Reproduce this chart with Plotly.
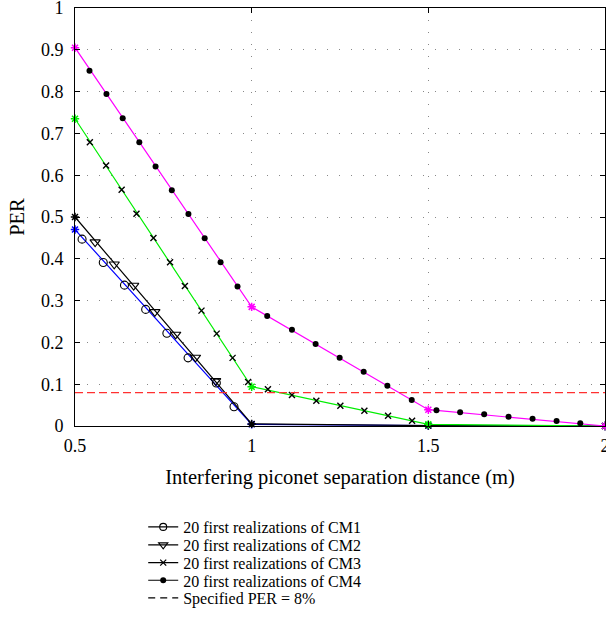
import plotly.graph_objects as go

# ---------------- data ----------------
anchor_x = [0.5, 1.0, 1.5, 2.0]
cm1_y = [0.47, 0.004, 0.001, 0.0]
cm2_y = [0.50, 0.005, 0.001, 0.0]
cm3_y = [0.735, 0.094, 0.004, 0.0]
cm4_y = [0.905, 0.285, 0.039, 0.0]

cm1_mk_x = [0.52, 0.58, 0.64, 0.70, 0.76, 0.82, 0.90, 0.95]
cm1_mk_y = [0.447, 0.391, 0.337, 0.279, 0.222, 0.163, 0.103, 0.046]
cm2_mk_x = [0.557, 0.611, 0.666, 0.726, 0.785, 0.841, 0.898]
cm2_mk_y = [0.44, 0.387, 0.336, 0.273, 0.219, 0.164, 0.108]
cm3_mk_x = [0.542, 0.588, 0.632, 0.674, 0.722, 0.769, 0.811, 0.858, 0.901, 0.946, 0.990,
            1.046, 1.114, 1.183, 1.251, 1.319, 1.386, 1.454]
cm3_mk_y = [0.679, 0.623, 0.565, 0.508, 0.450, 0.392, 0.335, 0.276, 0.221, 0.163, 0.105,
            0.088, 0.074, 0.0605, 0.0486, 0.0367, 0.0247, 0.0127]
cm4_mk_x = [0.541, 0.589, 0.635, 0.682, 0.728, 0.774, 0.821, 0.867, 0.912, 0.960,
            1.044, 1.114, 1.181, 1.249, 1.317, 1.384, 1.453,
            1.523, 1.590, 1.658, 1.727, 1.795, 1.863, 1.930]
cm4_mk_y = [0.850, 0.794, 0.736, 0.679, 0.621, 0.564, 0.507, 0.449, 0.392, 0.334,
            0.263, 0.230, 0.196, 0.163, 0.130, 0.0965, 0.062,
            0.0376, 0.0328, 0.028, 0.0223, 0.0175, 0.012, 0.0065]

per_x = [0.5, 2.0]
per_y = [0.08, 0.08]

x_ticks = [0.5, 1.0, 1.5, 2.0]
x_tick_labels = ["0.5", "1", "1.5", "2"]
y_ticks = [0, 0.1, 0.2, 0.3, 0.4, 0.5, 0.6, 0.7, 0.8, 0.9, 1.0]
y_tick_labels = ["0", "0.1", "0.2", "0.3", "0.4", "0.5", "0.6", "0.7", "0.8", "0.9", "1"]

legend_labels = ["20 first realizations of CM1", "20 first realizations of CM2",
                 "20 first realizations of CM3", "20 first realizations of CM4",
                 "Specified PER = 8%"]

FONT = "Liberation Serif"
fig = go.Figure()

# colored curves with star markers at anchors
curves = [(cm1_y, "#0000ff"), (cm2_y, "#000000"), (cm3_y, "#00ee00"), (cm4_y, "#ff00ff")]
for ys, col in curves:
    fig.add_trace(go.Scatter(x=anchor_x, y=ys, mode="lines+markers", showlegend=False,
                             line=dict(color=col, width=1.2),
                             marker=dict(symbol="asterisk-open", size=7,
                                         line=dict(color=col, width=1.5)),
                             cliponaxis=False, hoverinfo="skip"))

# black markers along curves
mk_sets = [(cm1_mk_x, cm1_mk_y, "circle-open", 8, 1.1),
           (cm2_mk_x, cm2_mk_y, "triangle-down-open", 9, 1.1),
           (cm3_mk_x, cm3_mk_y, "x-thin-open", 6, 1.4),
           (cm4_mk_x, cm4_mk_y, "circle", 6, 0)]
for xs, ys, sym, sz, lw in mk_sets:
    fig.add_trace(go.Scatter(x=xs, y=ys, mode="markers", showlegend=False,
                             marker=dict(symbol=sym, size=sz, color="black",
                                         line=dict(color="black", width=lw)),
                             cliponaxis=False, hoverinfo="skip"))

# specified PER
fig.add_trace(go.Scatter(x=per_x, y=per_y, mode="lines", showlegend=False,
                         line=dict(color="#ff3030", width=1.3, dash="8px,4px"),
                         hoverinfo="skip"))

# legend entries (one legend each, for MATLAB-like tight spacing)
leg_styles = [dict(mode="lines+markers", marker=dict(symbol="circle-open", size=7, color="black",
                                                     line=dict(width=1.1, color="black"))),
              dict(mode="lines+markers", marker=dict(symbol="triangle-down-open", size=8, color="black",
                                                     line=dict(width=1.1, color="black"))),
              dict(mode="lines+markers", marker=dict(symbol="x-thin-open", size=6, color="black",
                                                     line=dict(width=1.3, color="black"))),
              dict(mode="lines+markers", marker=dict(symbol="circle", size=6, color="black")),
              dict(mode="lines")]
leg_rows_y = [527, 545, 562.7, 580.4, 598]
plot_top, plot_bottom = 8, 426
legend_names = ["legend", "legend2", "legend3", "legend4", "legend5"]
for i, (lab, st) in enumerate(zip(legend_labels, leg_styles)):
    dash = "7px,5px" if i == 4 else "solid"
    fig.add_trace(go.Scatter(x=[None], y=[None], name=lab, showlegend=True,
                             line=dict(color="black", width=1.1, dash=dash),
                             legend=legend_names[i], **st))

leg_layout = {}
for i, ln in enumerate(legend_names):
    py = leg_rows_y[i]
    yp = (plot_bottom - py) / (plot_bottom - plot_top)
    leg_layout[ln] = dict(x=0.1287, y=yp, xanchor="left", yanchor="middle",
                          bgcolor="rgba(0,0,0,0)", borderwidth=0,
                          font=dict(family=FONT, size=16, color="black"),
                          itemwidth=30)

fig.update_layout(
    width=606, height=640,
    margin=dict(l=75, r=1, t=8, b=214, autoexpand=False),
    paper_bgcolor="white", plot_bgcolor="white",
    font=dict(family=FONT, size=18, color="black"),
    **leg_layout,
)

fig.update_xaxes(range=[0.5, 2.0], tickvals=x_ticks, ticktext=x_tick_labels,
                 showline=True, linecolor="black", linewidth=1, mirror="ticks",
                 ticks="inside", ticklen=5, tickcolor="black",
                 showgrid=True, gridcolor="#888888", gridwidth=1, griddash="1px,11px",
                 zeroline=False, tickfont=dict(family=FONT, size=18),
                 automargin=False, ticklabeloverflow="allow", ticklabelstandoff=3,
                 title=dict(text="Interfering piconet separation distance (m)",
                            font=dict(family=FONT, size=20.5), standoff=15))
fig.update_yaxes(range=[0, 1.0], tickvals=y_ticks, ticktext=y_tick_labels,
                 showline=True, linecolor="black", linewidth=1, mirror="ticks",
                 ticks="inside", ticklen=5, tickcolor="black",
                 showgrid=True, gridcolor="#888888", gridwidth=1, griddash="1px,11px",
                 zeroline=False, tickfont=dict(family=FONT, size=18),
                 automargin=False, ticklabeloverflow="allow", ticklabelstandoff=7,
                 title=dict(text="PER", font=dict(family=FONT, size=20.5), standoff=10))

fig.write_html("out.html", config={"displayModeBar": False},
               post_script="document.body.style.margin='0';")
